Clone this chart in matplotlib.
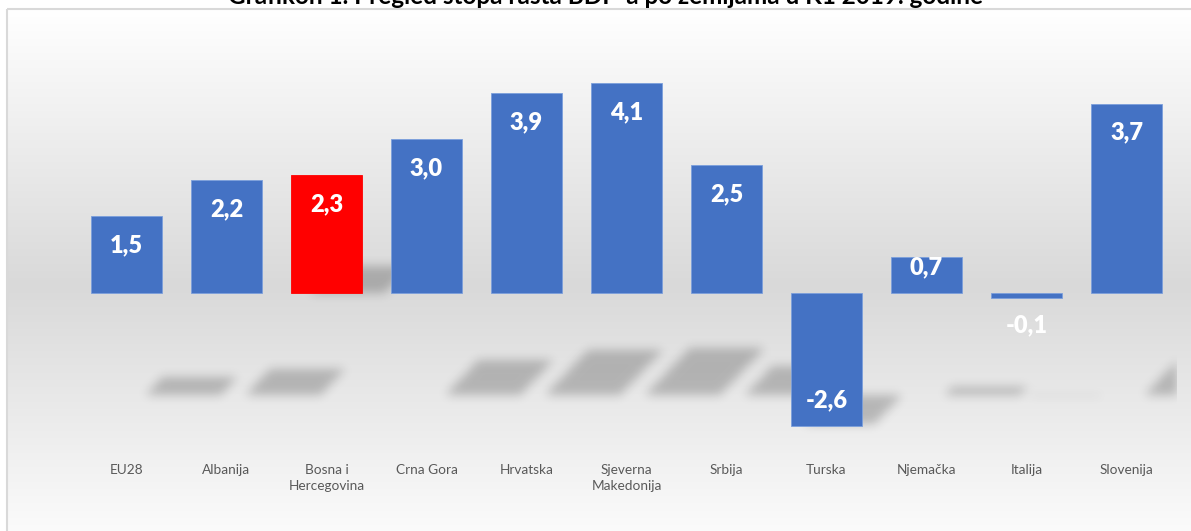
import numpy as np
import matplotlib
matplotlib.use("Agg")
import matplotlib.pyplot as plt
from matplotlib.path import Path

# ---------------- data ----------------
categories = ["EU28", "Albanija", "Bosna i\nHercegovina", "Crna Gora", "Hrvatska",
              "Sjeverna\nMakedonija", "Srbija", "Turska", "Njemačka", "Italija", "Slovenija"]
values = [1.5, 2.2, 2.3, 3.0, 3.9, 4.1, 2.5, -2.6, 0.7, -0.1, 3.7]
highlight = "Bosna i\nHercegovina"
title = "Grafikon 1. Pregled stopa rasta BDP-a po zemljama u K1 2019. godine"

# ---------------- style ----------------
W, H = 1191, 531
BLUE = "#4472C4"
RED = "#FF0000"
FONT = ["Lato", "DejaVu Sans"]
plt.rcParams["font.family"] = FONT

fig = plt.figure(figsize=(W / 100, H / 100), dpi=100)

# background gradient (chart area) in pixel coords
bg = fig.add_axes([0, 0, 1, 1], zorder=0)
bg.set_xlim(0, W)
bg.set_ylim(H, 0)
bg.axis("off")
ys = np.arange(H)
g = 217 + 38 * np.abs(ys - 285) / 276.0
g = np.clip(g, 0, 254) / 255.0
img = np.ones((H, W, 3))
img[:, :, :] = g[:, None, None]
img[:9, :, :] = 1.0
img[:, :7, :] = 1.0
bg.imshow(img, extent=[0, W, H, 0], aspect="auto", interpolation="bilinear")
bg.plot([7, 7], [9, H], color="#d9d9d9", lw=1.5, solid_capstyle="butt")
bg.plot([7, W], [9, 9], color="#d9d9d9", lw=1.5, solid_capstyle="butt")

# main axes geometry (pixels)
ZERO_PX = 293.0
PX_PER_UNIT = 51.2
AX_TOP, AX_BOT = 40.0, 440.0
AX_L, AX_R = 76.5, 1176.5
ax = fig.add_axes([AX_L / W, (H - AX_BOT) / H, (AX_R - AX_L) / W, (AX_BOT - AX_TOP) / H], zorder=2)
ax.set_facecolor("none")
ymax = (ZERO_PX - AX_TOP) / PX_PER_UNIT
ymin = -(AX_BOT - ZERO_PX) / PX_PER_UNIT
ax.set_xlim(-0.5, len(categories) - 0.5)
ax.set_ylim(ymin, ymax)
for s in ax.spines.values():
    s.set_visible(False)
ax.set_yticks([])

x = np.arange(len(categories))
bar_w = 0.71
colors = [RED if c == highlight else BLUE for c in categories]

# ---------- perspective shadows (rendered as blurred raster) ----------
nx, ny = int(AX_R - AX_L), int(AX_BOT - AX_TOP)
gx = np.linspace(-0.5, len(categories) - 0.5, nx)
gy = np.linspace(ymax, ymin, ny)
GX, GY = np.meshgrid(gx, gy)
pts = np.column_stack([GX.ravel(), GY.ravel()])
mask = np.zeros(GX.size)
for xi, v, c in zip(x, values, categories):
    if c == highlight:
        base_y, shift_l, shift_r = 0.0, 0.18, 0.22
    elif v < 0:
        base_y, shift_l, shift_r = -102 / PX_PER_UNIT, 0.40, 0.40
    else:
        base_y, shift_l, shift_r = -102 / PX_PER_UNIT, 0.54, 0.58
    hd = v * 11.5 / PX_PER_UNIT
    skew = 0.95 * hd * PX_PER_UNIT / 100.0
    x0 = xi - bar_w / 2 + shift_l
    x1 = xi + bar_w / 2 + shift_r
    poly = Path([(x0, base_y), (x1, base_y), (x1 + skew, base_y + hd), (x0 + skew, base_y + hd), (x0, base_y)])
    mask = np.maximum(mask, poly.contains_points(pts).astype(float))
mask = mask.reshape(GX.shape)
k = np.exp(-0.5 * (np.arange(-15, 16) / 5.0) ** 2)
k /= k.sum()
mask = np.apply_along_axis(lambda r: np.convolve(r, k, mode="same"), 1, mask)
mask = np.apply_along_axis(lambda r: np.convolve(r, k, mode="same"), 0, mask)
shadow = np.zeros((ny, nx, 4))
shadow[:, :, 3] = mask * 0.22
ax.imshow(shadow, extent=[-0.5, len(categories) - 0.5, ymin, ymax], aspect="auto",
          interpolation="bilinear", zorder=1)
ax.set_xlim(-0.5, len(categories) - 0.5)
ax.set_ylim(ymin, ymax)

# ---------- bars ----------
ax.bar(x, values, width=bar_w, color=colors, edgecolor=[("#7b9fdc" if c == BLUE else RED) for c in colors],
       linewidth=0.6, zorder=3)

# ---------- value labels ----------
for xi, v in zip(x, values):
    hpx = abs(v) * PX_PER_UNIT
    if v >= 0:
        off = -29 if hpx >= 60 else -10
    else:
        off = 26 if hpx >= 60 else -27
    ax.annotate(f"{v:.1f}".replace(".", ","), xy=(xi, v), xytext=(0, off * 0.72),
                textcoords="offset points", ha="center", va="center",
                color="white", fontsize=17, fontweight="heavy", zorder=4)

# ---------- category labels ----------
ax.set_xticks(x)
ax.set_xticklabels(categories, fontsize=9.8, color="#595959", linespacing=1.4)
ax.tick_params(axis="x", length=0, pad=17)

# ---------- title (clipped at the top edge, as in the reference) ----------
fig.text(605 / W, 1 - 4 / H, title, ha="center", va="baseline", fontsize=17.5,
         fontweight="bold", color="black")

fig.savefig("out.png", dpi=100)
